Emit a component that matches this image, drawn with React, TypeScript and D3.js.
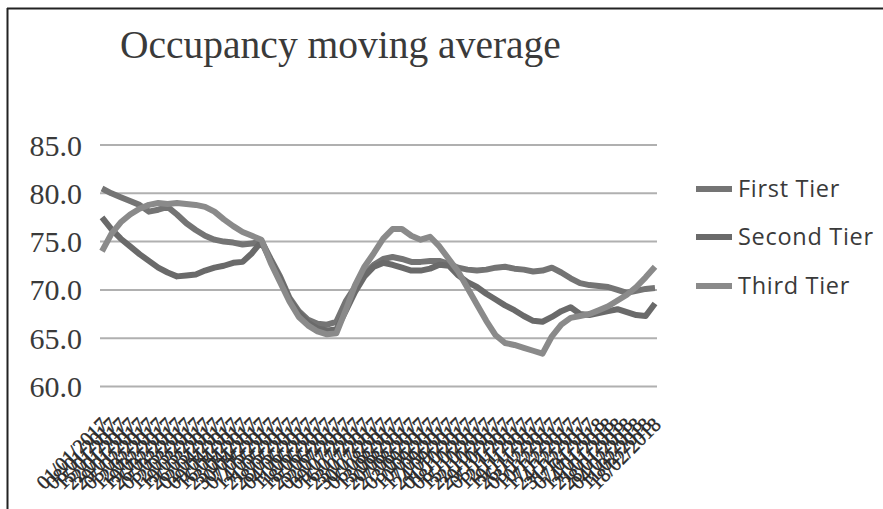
import React from "react";
import * as d3 from "d3";

const title = "Occupancy moving average";
const seriesNames = ["First Tier", "Second Tier", "Third Tier"];
const seriesColors = ["#747474", "#6a6a6a", "#8a8a8a"];
const yTicks = [60, 65, 70, 75, 80, 85];

const categories = [
  "01/01/2017", "08/01/2017", "15/01/2017", "22/01/2017", "29/01/2017", "05/02/2017", "12/02/2017", "19/02/2017",
  "26/02/2017", "05/03/2017", "12/03/2017", "19/03/2017", "26/03/2017", "02/04/2017", "09/04/2017", "16/04/2017",
  "23/04/2017", "30/04/2017", "07/05/2017", "14/05/2017", "21/05/2017", "28/05/2017", "04/06/2017", "11/06/2017",
  "18/06/2017", "25/06/2017", "02/07/2017", "09/07/2017", "16/07/2017", "23/07/2017", "30/07/2017", "06/08/2017",
  "13/08/2017", "20/08/2017", "27/08/2017", "03/09/2017", "10/09/2017", "17/09/2017", "24/09/2017", "01/10/2017",
  "08/10/2017", "15/10/2017", "22/10/2017", "29/10/2017", "05/11/2017", "12/11/2017", "19/11/2017", "26/11/2017",
  "03/12/2017", "10/12/2017", "17/12/2017", "24/12/2017", "31/12/2017", "07/01/2018", "14/01/2018", "21/01/2018",
  "28/01/2018", "04/02/2018", "11/02/2018", "18/02/2018",
];

const firstTier = [
  80.5, 80.0, 79.6, 79.2, 78.8, 78.1, 78.3, 78.6, 77.8, 76.9,
  76.2, 75.6, 75.2, 75.0, 74.9, 74.7, 74.8, 75.1, 73.2, 71.4,
  69.2, 67.8, 66.9, 66.5, 66.4, 66.7, 68.8, 70.3, 71.6, 72.6,
  73.2, 73.4, 73.2, 72.9, 72.9, 73.0, 73.0, 72.7, 72.3, 72.1,
  72.0, 72.1, 72.3, 72.4, 72.2, 72.1, 71.9, 72.0, 72.3, 71.8,
  71.2, 70.7, 70.5, 70.4, 70.3, 70.0, 69.7, 69.9, 70.1, 70.2,
];

const secondTier = [
  77.5, 76.3, 75.3, 74.5, 73.7, 73.0, 72.3, 71.8, 71.4, 71.5,
  71.6, 72.0, 72.3, 72.5, 72.8, 72.9, 73.8, 75.0, 73.0, 71.2,
  69.0, 67.6, 66.6, 66.0, 65.8, 65.9, 67.8, 69.8, 71.4, 72.4,
  72.8, 72.6, 72.3, 72.0, 72.0, 72.2, 72.6, 72.5, 71.5, 70.8,
  70.3, 69.6, 69.0, 68.4, 67.9, 67.3, 66.8, 66.7, 67.2, 67.8,
  68.2, 67.5, 67.4, 67.6, 67.8, 68.0, 67.7, 67.4, 67.3, 68.6,
];

const thirdTier = [
  74.0, 75.8, 77.0, 77.8, 78.4, 78.8, 79.0, 78.9, 79.0, 78.9,
  78.8, 78.6, 78.1, 77.3, 76.6, 76.0, 75.6, 75.2, 72.8, 70.8,
  68.8, 67.2, 66.3, 65.7, 65.4, 65.5, 67.9, 70.5, 72.4, 73.8,
  75.3, 76.3, 76.3, 75.6, 75.2, 75.5, 74.5, 73.2, 71.9, 70.2,
  68.5, 66.8, 65.3, 64.5, 64.3, 64.0, 63.7, 63.4, 65.2, 66.4,
  67.1, 67.3, 67.5, 67.9, 68.3, 68.9, 69.5, 70.3, 71.3, 72.4,
];

const allSeries = [firstTier, secondTier, thirdTier];

const W = 883;
const H = 509;

export default function App() {
  const x = d3.scalePoint<string>().domain(categories).range([102, 655]);
  const y = d3.scaleLinear().domain([60, 85]).range([386.5, 145]);
  const line = d3
    .line<number>()
    .x((_, i) => x(categories[i]) as number)
    .y((d) => y(d));

  return (
    <svg
      width={W}
      height={H}
      style={{ position: "absolute", left: 0, top: 0, background: "#fff" }}
    >
      <rect x={0} y={0} width={W} height={H} fill="#fff" />
      <line x1={7} y1={8.5} x2={W} y2={8.5} stroke="#222" strokeWidth={2} />
      <line x1={7.5} y1={8} x2={7.5} y2={H} stroke="#222" strokeWidth={2} />

      <text
        x={120}
        y={58}
        fontFamily="'Liberation Serif', 'Times New Roman', serif"
        fontSize={39.5}
        fill="#3a3a3a"
      >
        {title}
      </text>

      {yTicks.map((t) => (
        <g key={t}>
          <line x1={100} x2={657} y1={y(t)} y2={y(t)} stroke="#b0b0b0" strokeWidth={2} />
          <text
            x={82}
            y={y(t)}
            dy="0.35em"
            textAnchor="end"
            fontFamily="'Liberation Serif', 'Times New Roman', serif"
            fontSize={30}
            fill="#3a3a3a"
          >
            {t.toFixed(1)}
          </text>
        </g>
      ))}

      {allSeries.map((s, k) => (
        <path
          key={k}
          d={line(s) || ""}
          fill="none"
          stroke={seriesColors[k]}
          strokeWidth={6}
          strokeLinejoin="round"
          strokeLinecap="butt"
        />
      ))}

      {categories.map((c) => (
        <text
          key={c}
          transform={`translate(${(x(c) as number) + 7},${426}) rotate(-45)`}
          textAnchor="end"
          fontFamily="'Liberation Serif', 'Times New Roman', serif"
          fontSize={20}
          fill="#2a2a2a"
          stroke="#2a2a2a"
          strokeWidth={0.4}
        >
          {c}
        </text>
      ))}

      {seriesNames.map((n, k) => {
        const ly = [189, 237, 286][k];
        return (
          <g key={n}>
            <line x1={696} x2={732} y1={ly} y2={ly} stroke={seriesColors[k]} strokeWidth={6} />
            <text
              x={738}
              y={ly}
              dy="0.35em"
              fontFamily="'Open Sans', 'Noto Sans', sans-serif"
              fontSize={23.5}
              letterSpacing={0.7}
              fill="#3a3a3a"
            >
              {n}
            </text>
          </g>
        );
      })}
    </svg>
  );
}
